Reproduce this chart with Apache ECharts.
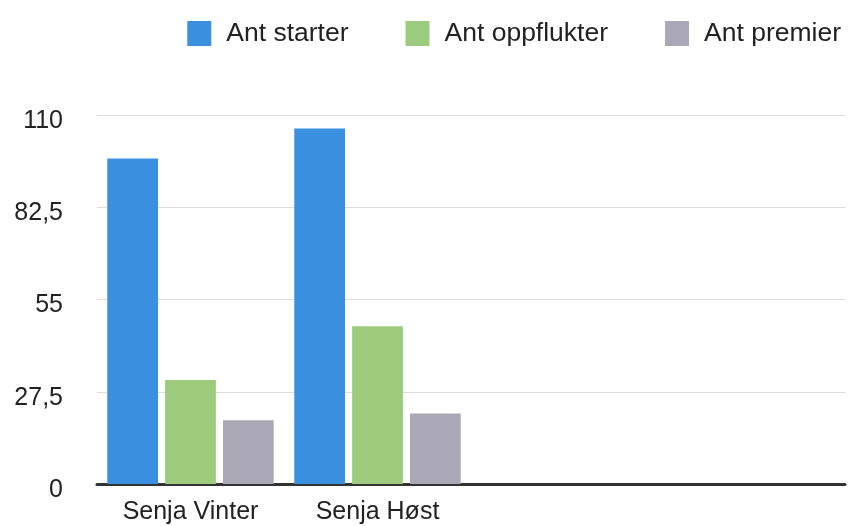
<!DOCTYPE html>
<html>
<head>
<meta charset="utf-8">
<script src="https://cdn.jsdelivr.net/npm/echarts@6/dist/echarts.min.js"></script>
<style>
html,body{margin:0;padding:0;background:#fff;}
#chart{width:851px;height:526px;}
</style>
</head>
<body>
<div id="chart"></div>
<script>
const categories = ['Senja Vinter', 'Senja Høst', '', ''];
const antStarter = [97, 106, null, null];
const antOppflukter = [31, 47, null, null];
const antPremier = [19, 21, null, null];
const seriesNames = ['Ant starter', 'Ant oppflukter', 'Ant premier'];
const colors = ['#3a8fde', '#9dcb7e', '#aaa8b6'];

const chart = echarts.init(document.getElementById('chart'));
const font = '"Liberation Sans", Arial, Helvetica, sans-serif';
chart.setOption({
  animation: false,
  color: colors,
  legend: {
    right: 5,
    top: 15,
    icon: 'rect',
    itemWidth: 24,
    itemHeight: 25,
    itemGap: 57,
    textStyle: { fontSize: 26.5, color: '#222', fontFamily: font, padding: [0, 0, 0, 10] },
    data: seriesNames
  },
  grid: { left: 97, right: 6, top: 115, bottom: 42, containLabel: false },
  xAxis: {
    type: 'category',
    data: categories,
    axisTick: { show: false },
    axisLine: { lineStyle: { color: '#333', width: 3 } },
    axisLabel: { fontSize: 25, color: '#222', fontFamily: font, margin: 16 }
  },
  yAxis: {
    type: 'value',
    min: 0,
    max: 110,
    interval: 27.5,
    axisLine: { show: false },
    axisTick: { show: false },
    splitLine: { lineStyle: { color: '#dcdcdc', width: 1 } },
    axisLabel: {
      fontSize: 25, color: '#222', fontFamily: font, margin: 34,
      verticalAlign: 'top', lineHeight: 12,
      formatter: v => String(v).replace('.', ',')
    }
  },
  series: [
    { name: seriesNames[0], type: 'bar', data: antStarter, barGap: '14%', barCategoryGap: '11%' },
    { name: seriesNames[1], type: 'bar', data: antOppflukter, barGap: '14%', barCategoryGap: '11%' },
    { name: seriesNames[2], type: 'bar', data: antPremier, barGap: '14%', barCategoryGap: '11%' }
  ]
});
</script>
</body>
</html>
